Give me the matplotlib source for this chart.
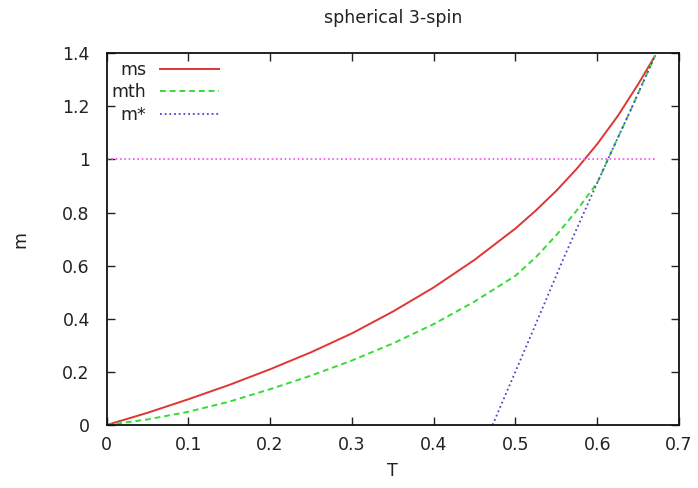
import matplotlib
matplotlib.use("Agg")
import matplotlib.pyplot as plt

# ---- data ----
T_ms = [0.0, 0.05, 0.1, 0.15, 0.2, 0.25, 0.3, 0.35, 0.4, 0.45, 0.5, 0.525, 0.55, 0.575,
        0.6, 0.625, 0.65, 0.6705]
m_ms = [0.0, 0.046, 0.097, 0.151, 0.210, 0.274, 0.345, 0.427, 0.518, 0.622, 0.740, 0.808,
        0.882, 0.965, 1.058, 1.163, 1.283, 1.389]

T_mth = [0.0, 0.05, 0.1, 0.15, 0.2, 0.25, 0.3, 0.35, 0.4, 0.45, 0.5, 0.525, 0.55, 0.575,
         0.6, 0.62, 0.64, 0.6705]
m_mth = [0.0, 0.021, 0.050, 0.088, 0.135, 0.186, 0.243, 0.307, 0.380, 0.465, 0.562, 0.632,
         0.715, 0.808, 0.912, 1.047, 1.180, 1.389]

T_mstar = [0.472, 0.52, 0.56, 0.6, 0.62, 0.64, 0.6705]
m_mstar = [0.0, 0.345, 0.636, 0.912, 1.047, 1.180, 1.389]

T_one = [0.0, 0.671]
m_one = [1.0, 1.0]

xticks = [0, 0.1, 0.2, 0.3, 0.4, 0.5, 0.6, 0.7]
xticklabels = ["0", "0.1", "0.2", "0.3", "0.4", "0.5", "0.6", "0.7"]
yticks = [0, 0.2, 0.4, 0.6, 0.8, 1.0, 1.2, 1.4]
yticklabels = ["0", "0.2", "0.4", "0.6", "0.8", "1", "1.2", "1.4"]

plt.rcParams['font.family'] = ['DejaVu Sans']
FS = 12.5
TXT = '#222222'

fig = plt.figure(figsize=(6.98, 4.88), dpi=100)
ax = fig.add_axes([0.1526, 0.129, 0.8202, 0.762])

ax.plot(T_ms, m_ms, color='#e03535', lw=1.4, label='ms')
ax.plot(T_mth, m_mth, color='#33dd33', lw=1.4, dashes=(3, 2), label='mth')
ax.plot(T_mstar, m_mstar, color='#4848cc', lw=1.3, dashes=(1, 1.6), label='m*')
ax.plot(T_one, m_one, color='#ee55ee', lw=1.2, dashes=(1, 1.6))

ax.set_xlim(0, 0.7)
ax.set_ylim(0, 1.4)
ax.set_xticks(xticks)
ax.set_xticklabels(xticklabels)
ax.set_yticks(yticks)
ax.set_yticklabels(yticklabels)
ax.tick_params(direction='in', length=6, width=1, top=True, right=True,
               labelsize=FS, colors=TXT)
ax.tick_params(axis='x', pad=8)
ax.tick_params(axis='y', pad=12)
for s in ax.spines.values():
    s.set_linewidth(1.3)
    s.set_color('#111111')

ax.set_xlabel('T', fontsize=FS, color=TXT, labelpad=6)
ax.set_ylabel('m', fontsize=FS, color=TXT, labelpad=24)
ax.set_title('spherical 3-spin', fontsize=FS, color=TXT, pad=22)

leg = ax.legend(loc='upper left', bbox_to_anchor=(-0.005, 1.0), frameon=False,
                markerfirst=False, fontsize=FS, handlelength=3.4,
                handletextpad=0.8, labelspacing=0.25, borderaxespad=0.05)
for t in leg.get_texts():
    t.set_color(TXT)

fig.savefig('out.png', dpi=100)
